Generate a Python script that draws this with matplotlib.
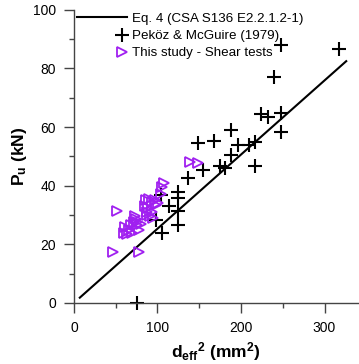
import numpy as np
import matplotlib
matplotlib.use("Agg")
import matplotlib.pyplot as plt
from matplotlib.legend_handler import HandlerLine2D
from matplotlib.ticker import MultipleLocator

plt.rcParams['font.family'] = ['Liberation Sans', 'DejaVu Sans']
plt.rcParams['mathtext.fontset'] = 'custom'
plt.rcParams['mathtext.rm'] = 'Liberation Sans:bold'
plt.rcParams['mathtext.bf'] = 'Liberation Sans:bold'
plt.rcParams['mathtext.default'] = 'bf'

# Pekoz & McGuire (1979) points: d_eff^2 (mm2), Pu (kN)
pekoz_x = [75, 98, 105, 104, 114, 124, 125, 125, 125, 137, 149, 155, 168, 175,
           181, 188, 188, 196, 210, 217, 217, 224, 232, 248, 248, 240, 248, 317]
pekoz_y = [0, 28.2, 24, 36.9, 33, 37.8, 35.7, 31.4, 26.4, 42.5, 54.6, 45.4, 55.3, 46.8,
           45.9, 59, 50.5, 53.8, 53.8, 55, 46.8, 64.4, 63.4, 64.7, 58.2, 77, 88, 86.6]

# This study - shear tests
shear_x = [47, 78, 52, 60, 61, 64, 66, 68, 70, 72, 73, 74, 75, 76, 78, 80,
           85, 86, 87, 88, 89, 90, 91, 93, 94, 95, 97, 98, 101, 104, 105, 108, 139, 149]
shear_y = [17.5, 17.3, 31.3, 24, 25.8, 23.5, 25, 26.5, 24, 27.5, 29.5, 28.5, 26.5, 27.5, 25, 27,
           33, 35, 31, 30, 32.5, 35.5, 29.5, 31, 34.5, 29, 35, 33.5, 34, 37, 39.5, 40.8, 48, 47.7]

# Eq. 4 design line
eq_x = np.array([7, 326])
eq_slope = 0.253
eq_y = eq_slope * eq_x

violet = '#A020F0'


# marker drawn at the right end of the legend handle, like the original
class RightMarker(HandlerLine2D):
    def get_xdata(self, legend, xdescent, ydescent, width, height, fontsize):
        xm = np.array([-xdescent + width - 0.33 * fontsize])
        return xm, xm


fig = plt.figure(figsize=(3.59, 3.64), dpi=100)
ax = fig.add_axes([0.206, 0.168, 0.791, 0.805])

ln, = ax.plot(eq_x, eq_y, color='black', lw=1.5, label='Eq. 4 (CSA S136 E2.2.1.2-1)')
pk, = ax.plot(pekoz_x, pekoz_y, ls='none', marker='+', ms=10, mew=1.5, color='black',
              label='Peköz & McGuire (1979)', clip_on=False)
sh, = ax.plot(shear_x, shear_y, ls='none', marker='>', ms=6.5, mew=1.3, mfc='none',
              mec=violet, label='This study - Shear tests')

ax.set_xlim(0, 340)
ax.set_ylim(0, 100)
ax.xaxis.set_major_locator(MultipleLocator(100))
ax.xaxis.set_minor_locator(MultipleLocator(50))
ax.yaxis.set_major_locator(MultipleLocator(20))
ax.yaxis.set_minor_locator(MultipleLocator(10))

for s in ['top', 'right']:
    ax.spines[s].set_visible(False)
for s in ['left', 'bottom']:
    ax.spines[s].set_color('#444444')
    ax.spines[s].set_linewidth(1.0)
ax.tick_params(which='major', length=7, width=1, color='#444444', labelsize=10, pad=6)
ax.tick_params(which='minor', length=3.5, width=1, color='#444444')

ax.set_xlabel(r'd$_{eff}$$^2$ (mm$^2$)', fontsize=12.5, fontweight='bold', labelpad=4)
ax.set_ylabel(r'P$_u$ (kN)', fontsize=12.5, fontweight='bold', labelpad=3)

leg = ax.legend(handles=[ln, pk, sh], loc='upper left', frameon=False, fontsize=9.6,
                handlelength=3.75, handletextpad=0.38, labelspacing=0.36,
                borderpad=0.12, borderaxespad=0.1, bbox_to_anchor=(0.0, 1.0),
                handler_map={pk: RightMarker(numpoints=2), sh: RightMarker(numpoints=2)})

fig.savefig('out.png', dpi=100)
